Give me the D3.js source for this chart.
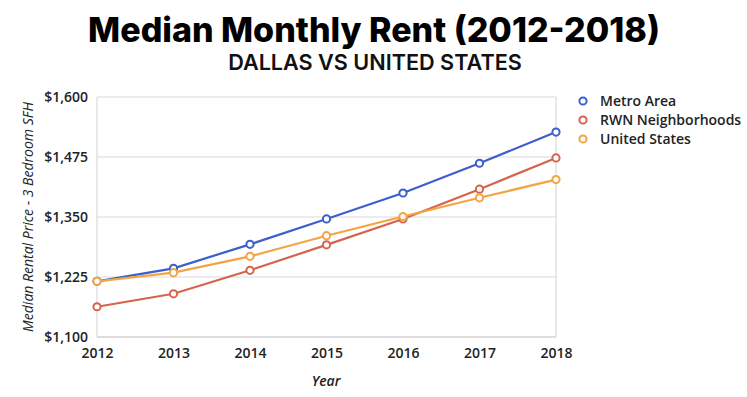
<!DOCTYPE html>
<html><head><meta charset="utf-8">
<script src="https://cdn.jsdelivr.net/npm/d3@7"></script>
<style>body{margin:0;background:#fff;} svg{display:block;}</style>
</head><body>
<svg id="chart" width="747" height="397"></svg>
<script>
const years = [2012, 2013, 2014, 2015, 2016, 2017, 2018];
const metroArea = [1216, 1243, 1293, 1346, 1400, 1462, 1527];
const rwnNeighborhoods = [1163, 1190, 1239, 1292, 1346, 1408, 1473];
const unitedStates = [1216, 1234, 1268, 1311, 1351, 1390, 1428];
const seriesNames = ["Metro Area", "RWN Neighborhoods", "United States"];
const seriesColors = ["#3d5fcd", "#d6644d", "#f4a443"];
const yTicks = [1100, 1225, 1350, 1475, 1600];

const series = [metroArea, rwnNeighborhoods, unitedStates].map((v, i) => ({name: seriesNames[i], color: seriesColors[i], values: v}));

const svg = d3.select("#chart");
const x = d3.scaleLinear().domain([2012, 2018]).range([97, 556]);
const y = d3.scaleLinear().domain([1100, 1600]).range([337, 97]);

// Title
const title = svg.append("text").attr("x", 374).attr("y", 41.5).attr("text-anchor", "middle")
  .style("font-family", "Inter").style("font-weight", 800).style("font-size", "32px")
  .attr("fill", "#000").text("Median Monthly Rent (2012-2018)");
let w = title.node().getComputedTextLength();
title.style("font-size", (32 * 572 / w) + "px");
const sub = svg.append("text").attr("x", 375).attr("y", 69.5).attr("text-anchor", "middle")
  .style("font-family", "Inter").style("font-weight", 600).style("font-size", "19px")
  .attr("fill", "#111").text("DALLAS VS UNITED STATES");
w = sub.node().getComputedTextLength();
sub.style("font-size", (19 * 294 / w) + "px");

// Grid
const g = svg.append("g");
g.selectAll("line.grid").data(yTicks).join("line").attr("class", "grid")
  .attr("x1", x(2012)).attr("x2", x(2018)).attr("y1", d => y(d)).attr("y2", d => y(d))
  .attr("stroke", d => d === 1100 ? "#bbb" : "#dadada").attr("stroke-width", 1.2);
g.append("line").attr("x1", x(2012)).attr("x2", x(2012)).attr("y1", y(1600)).attr("y2", y(1100)).attr("stroke", "#dadada").attr("stroke-width", 1.2);
g.append("line").attr("x1", x(2018)).attr("x2", x(2018)).attr("y1", y(1600)).attr("y2", y(1100)).attr("stroke", "#dadada").attr("stroke-width", 1.2);

// Axes
const fmt = d => "$" + d3.format(",")(d);
const yAxis = svg.append("g").attr("transform", `translate(${x(2012) - 9},0)`)
  .call(d3.axisLeft(y).tickValues(yTicks).tickFormat(fmt).tickSize(0).tickPadding(0));
yAxis.select(".domain").remove();
yAxis.selectAll("text").style("font-family", "Open Sans").style("font-weight", 600).style("font-size", "14px").attr("fill", "#222").attr("dy", "0.35em");

const xAxis = svg.append("g").attr("transform", `translate(0,${y(1100)})`)
  .call(d3.axisBottom(x).tickValues(years).tickFormat(d3.format("d")).tickSize(0).tickPadding(11));
xAxis.select(".domain").remove();
xAxis.selectAll("text").style("font-family", "Open Sans").style("font-weight", 600).style("font-size", "14px").attr("fill", "#222");

// Axis titles
svg.append("text").attr("transform", "translate(33,217) rotate(-90)").attr("text-anchor", "middle")
  .style("font-family", "Open Sans").style("font-style", "italic").style("font-size", "14px").attr("fill", "#222")
  .text("Median Rental Price - 3 Bedroom SFH");
svg.append("text").attr("x", 326).attr("y", 386).attr("text-anchor", "middle")
  .style("font-family", "Open Sans").style("font-style", "italic").style("font-weight", 600).style("font-size", "14px").attr("fill", "#222")
  .text("Year");

// Lines
const line = d3.line().x((d, i) => x(years[i])).y(d => y(d));
const sg = svg.selectAll("g.series").data(series).join("g").attr("class", "series");
sg.append("path").attr("d", d => line(d.values)).attr("fill", "none").attr("stroke", d => d.color).attr("stroke-width", 2.2);
sg.each(function(s) {
  d3.select(this).selectAll("circle").data(s.values).join("circle")
    .attr("cx", (d, i) => x(years[i])).attr("cy", d => y(d)).attr("r", 3.6)
    .attr("fill", "#fff").attr("stroke", s.color).attr("stroke-width", 2);
});

// Legend
const lg = svg.selectAll("g.legend").data(series).join("g").attr("class", "legend")
  .attr("transform", (d, i) => `translate(583,${101 + i * 19})`);
lg.append("circle").attr("r", 3.6).attr("fill", "#fff").attr("stroke", d => d.color).attr("stroke-width", 2);
lg.append("text").attr("x", 17).attr("dy", "0.35em")
  .style("font-family", "Open Sans").style("font-weight", 600).style("font-size", "14px").attr("fill", "#222")
  .text(d => d.name);
</script>
</body></html>
